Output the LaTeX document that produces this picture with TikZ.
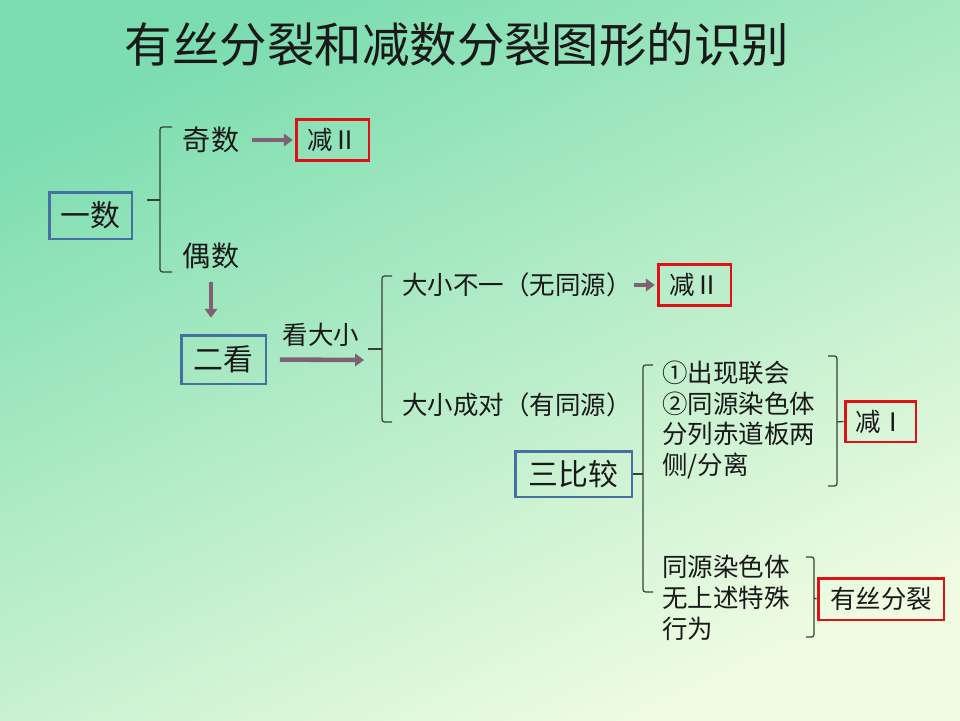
\documentclass[tikz,border=0pt]{standalone}
\usepackage{fontspec}
\newfontfamily\cjk{Noto Sans CJK SC}
\usetikzlibrary{arrows.meta,positioning,calc}

\definecolor{bgtop}{RGB}{124,221,176}
\definecolor{bgmid}{RGB}{178,234,172}
\definecolor{bgbot}{RGB}{240,252,226}
\definecolor{boxblue}{RGB}{70,112,160}
\definecolor{boxred}{RGB}{222,18,22}
\definecolor{arrowc}{RGB}{128,96,116}
\definecolor{bracec}{RGB}{55,65,55}

\begin{document}
\begin{tikzpicture}[
  x=0.02cm, y=-0.02cm,
  >={Triangle[length=5pt,width=7pt]},
  every node/.style={font=\cjk\fontsize{14.5}{17.6}\selectfont, inner sep=0pt, text=black!90},
  keybox/.style={rectangle, draw=boxblue, line width=1.7pt, font=\cjk\fontsize{17}{20}\selectfont},
  resbox/.style={rectangle, draw=boxred, line width=1.7pt, minimum height=0.82cm},
  item/.style={align=left, anchor=west},
  brace/.style={draw=bracec, line width=0.7pt, rounded corners=1.5pt},
  flow/.style={->, draw=arrowc, line width=2.6pt}
]
  % background
  \shade[top color=bgtop, middle color=bgmid, bottom color=bgbot, shading angle=25]
    (0,0) rectangle (960,720);
  \useasboundingbox (0,0) rectangle (960,720);

  \node[font=\cjk\fontsize{27}{30}\selectfont] (title) at (457,45) {有丝分裂和减数分裂图形的识别};

  % step one
  \node[keybox, minimum width=1.66cm, minimum height=0.94cm] (yishu) at (90.5,215.5) {一数};
  \node[font=\cjk\fontsize{16}{19}\selectfont] (jishu) at (211,140) {奇数};
  \node[font=\cjk\fontsize{16}{19}\selectfont] (oushu) at (211,256) {偶数};
  \node[resbox, minimum width=1.46cm] (jianA) at (332.5,140) {减Ⅱ};

  \draw[brace] (172,127) -- (160,127) -- (160,272) -- (172,272);
  \draw[brace] (147,200) -- (160,200);
  \draw[flow, shorten <=7pt, shorten >=1pt] (jishu.east) -- (jianA.west);

  % step two
  \node[keybox, minimum width=1.7cm, minimum height=0.98cm] (erkan) at (223.5,359.5) {二看};
  \draw[flow, shorten <=7pt, shorten >=9pt] (oushu.south) -- (oushu.south |- erkan.north);
  \coordinate (kanend) at (364,360);
  \draw[flow, shorten <=7pt] (erkan.east) -- node[above=6pt, xshift=0.1cm] (kan) {看大小} (kanend);

  \draw[brace] (392,276) -- (382,276) -- (382,422) -- (392,422);
  \draw[brace] (368,349) -- (382,349);
  \node[item] (buyi) at (402,285) {大小不一（无同源）};
  \node[item] (chengdui) at (402,405) {大小成对（有同源）};
  \node[resbox, minimum width=1.46cm] (jianB) at (694.5,285) {减Ⅱ};
  \draw[flow, shorten <=1pt, shorten >=1pt] (buyi.east) -- (jianB.west);

  % step three
  \node[keybox, minimum width=2.34cm, minimum height=0.92cm] (sanbi) at (573.5,474) {三比较};
  \draw[brace] (653,365) -- (643,365) -- (643,592) -- (653,592);
  \draw[brace] (sanbi.east) -- (643,474);

  \node[item] (meiosis) at (662,420) {①出现联会\\②同源染色体\\分列赤道板两\\侧/分离};
  \node[item] (mitosis) at (662,598) {同源染色体\\无上述特殊\\行为};

  \node[resbox, minimum width=1.42cm] (jianC) at (880.5,421.5) {减Ⅰ};
  \node[resbox, minimum width=2.52cm, minimum height=0.84cm] (yousi) at (881,599) {有丝分裂};

  \draw[brace] (828,356) -- (837,356) -- (837,486) -- (828,486);
  \draw[brace] (837,422) -- (jianC.west);
  \draw[brace] (806,557) -- (814,557) -- (814,637) -- (806,637);
  \draw[brace] (814,598) -- (yousi.west);
\end{tikzpicture}
\end{document}
